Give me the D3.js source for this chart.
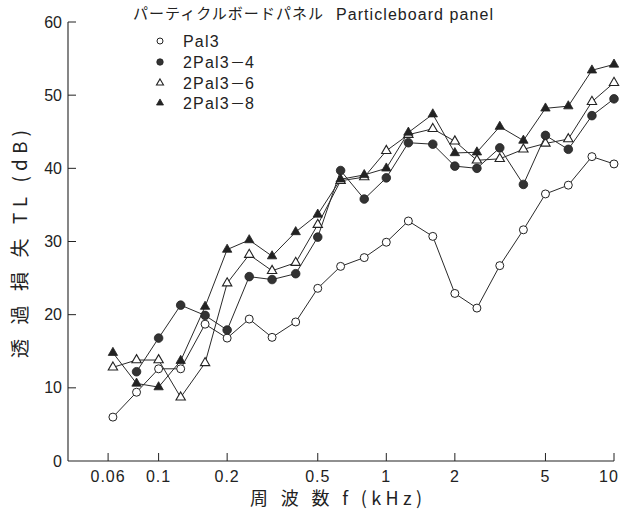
<!DOCTYPE html>
<html>
<head>
<meta charset="utf-8">
<script src="https://cdn.jsdelivr.net/npm/d3@7"></script>
<style>
  html, body { margin: 0; padding: 0; background: #fff; }
  svg { display: block; }
</style>
</head>
<body>
<svg id="chart" width="620" height="516"></svg>
<script>
// One-third-octave band centre frequencies (kHz)
const freqs = [0.063, 0.08, 0.1, 0.125, 0.16, 0.2, 0.25, 0.315, 0.4, 0.5, 0.63, 0.8,
               1, 1.25, 1.6, 2, 2.5, 3.15, 4, 5, 6.3, 8, 10];

// Transmission loss TL (dB) per panel construction
const pal3   = [6.0, 9.4, 12.6, 12.6, 18.7, 16.8, 19.4, 16.9, 19.0, 23.6, 26.6, 27.8,
                29.9, 32.8, 30.7, 22.9, 20.9, 26.7, 31.6, 36.5, 37.7, 41.6, 40.6];
const pal3x4 = [null, 12.2, 16.8, 21.3, 19.9, 17.9, 25.2, 24.8, 25.6, 30.6, 39.7, 35.8,
                38.7, 43.5, 43.3, 40.3, 40.0, 42.8, 37.8, 44.5, 42.6, 47.2, 49.5];
const pal3x6 = [12.8, 13.8, 13.8, 8.7, 13.4, 24.3, 28.2, 26.0, 27.1, 32.3, 38.3, 38.8,
                42.4, 44.6, 45.4, 43.7, 41.1, 41.3, 42.6, 43.4, 44.0, 49.1, 51.7];
const pal3x8 = [14.8, 10.6, 10.1, 13.7, 21.1, 28.9, 30.2, 28.0, 31.3, 33.7, 38.5, 39.1,
                40.0, 44.9, 47.4, 42.1, 42.2, 45.7, 43.8, 48.2, 48.5, 53.4, 54.2];

// Legend names, split around the full-width dash
const seriesNames = [["Pal3"], ["2Pal3", "－", "4"], ["2Pal3", "－", "6"], ["2Pal3", "－", "8"]];

// Axis ticks
const xTicks = [0.06, 0.1, 0.2, 0.5, 1, 2, 5, 10];
const xTickLabels = ["0.06", "0.1", "0.2", "0.5", "1", "2", "5", "10"];
const yTicks = [0, 10, 20, 30, 40, 50, 60];

const titleJa = "パーティクルボードパネル";
const titleEn = "Particleboard panel";
const xTitle = "周 波 数 f (kHz)";
const yTitle = "透 過 損 失 TL (dB)";

const ink = "#222";
const numFont = "'Liberation Sans Narrow', 'Liberation Sans', Arial, sans-serif";
const latFont = "'Liberation Sans', Arial, sans-serif";
const cjkFont = "'Noto Sans CJK JP', 'Noto Sans', sans-serif";

const svg = d3.select("#chart");

const x = d3.scaleLog().domain([0.04, 10]).range([68, 614]);
const y = d3.scaleLinear().domain([0, 60]).range([461, 22]);

// Axes: ticks drawn inward
const axisG = svg.append("g");
axisG.append("line")
  .attr("x1", x.range()[0]).attr("x2", x.range()[1])
  .attr("y1", y(0)).attr("y2", y(0))
  .attr("stroke", ink).attr("stroke-width", 1.1);
axisG.append("line")
  .attr("x1", x.range()[0]).attr("x2", x.range()[0])
  .attr("y1", y(0)).attr("y2", y(60))
  .attr("stroke", ink).attr("stroke-width", 1.1);

axisG.selectAll(".xt").data(xTicks).join("line")
  .attr("x1", d => x(d)).attr("x2", d => x(d))
  .attr("y1", y(0)).attr("y2", y(0) - 8)
  .attr("stroke", ink).attr("stroke-width", 1);
axisG.selectAll(".xl").data(xTicks).join("text")
  .attr("x", d => Math.min(x(d), 609)).attr("y", y(0) + 15)
  .attr("dy", "0.35em")
  .attr("text-anchor", "middle")
  .attr("font-family", numFont).attr("font-size", 16)
  .attr("letter-spacing", 1)
  .attr("fill", ink)
  .text((d, i) => xTickLabels[i]);

axisG.selectAll(".yt").data(yTicks.filter(d => d > 0)).join("line")
  .attr("x1", x.range()[0]).attr("x2", x.range()[0] + 8)
  .attr("y1", d => y(d)).attr("y2", d => y(d))
  .attr("stroke", ink).attr("stroke-width", 1);
axisG.selectAll(".yl").data(yTicks).join("text")
  .attr("x", 62).attr("y", d => y(d))
  .attr("dy", "0.35em")
  .attr("text-anchor", "end")
  .attr("font-family", numFont).attr("font-size", 16)
  .attr("fill", ink)
  .text(d => d);

// Axis titles
svg.append("text")
  .attr("x", 250).attr("y", 499).attr("dy", "0.35em")
  .attr("font-family", cjkFont).attr("font-size", 18)
  .attr("textLength", 172).attr("lengthAdjust", "spacing")
  .attr("fill", ink)
  .text(xTitle);
svg.append("text")
  .attr("transform", "translate(20,358) rotate(-90)")
  .attr("dy", "0.35em")
  .attr("font-family", cjkFont).attr("font-size", 19)
  .attr("textLength", 228).attr("lengthAdjust", "spacing")
  .attr("fill", ink)
  .text(yTitle);

// Title
svg.append("text")
  .attr("x", 133).attr("y", 14).attr("dy", "0.35em")
  .attr("font-family", cjkFont).attr("font-size", 15)
  .attr("textLength", 190).attr("lengthAdjust", "spacing")
  .attr("fill", ink)
  .text(titleJa);
svg.append("text")
  .attr("x", 336).attr("y", 14).attr("dy", "0.35em")
  .attr("font-family", latFont).attr("font-size", 16)
  .attr("textLength", 157).attr("lengthAdjust", "spacing")
  .attr("fill", ink)
  .text(titleEn);

// Series
const allSeries = [pal3, pal3x4, pal3x6, pal3x8].map((vals, k) => ({
  name: seriesNames[k],
  k,
  pts: freqs.map((f, i) => ({ f, v: vals[i] }))
}));

const line = d3.line()
  .defined(d => d.v != null)
  .x(d => x(d.f)).y(d => y(d.v));

svg.append("g").selectAll("path").data(allSeries).join("path")
  .attr("d", s => line(s.pts))
  .attr("fill", "none")
  .attr("stroke", "#2a2a2a")
  .attr("stroke-width", 1);

const tri = d3.symbol().type(d3.symbolTriangle);

function drawMarker(g, k, scale) {
  if (k === 0) {
    g.append("circle").attr("r", 4 * scale)
      .attr("fill", "#fff").attr("stroke", ink).attr("stroke-width", 1);
  } else if (k === 1) {
    g.append("circle").attr("r", 4.3 * scale)
      .attr("fill", "#333").attr("stroke", ink).attr("stroke-width", 0.8);
  } else if (k === 2) {
    g.append("path").attr("d", tri.size(38 * scale * scale)())
      .attr("fill", "#fff").attr("stroke", ink).attr("stroke-width", 1.1);
  } else {
    g.append("path").attr("d", tri.size(38 * scale * scale)())
      .attr("fill", "#222").attr("stroke", ink).attr("stroke-width", 0.8);
  }
}

// Markers: open triangles beneath the filled ones
const drawOrder = [0, 2, 1, 3];
drawOrder.forEach(k => {
  const s = allSeries[k];
  svg.append("g").selectAll("g").data(s.pts.filter(d => d.v != null)).join("g")
    .attr("transform", d => `translate(${x(d.f)},${y(d.v)})`)
    .each(function () { drawMarker(d3.select(this), k, 1); });
});

// Legend
const legendY = [41, 62, 83, 103];
allSeries.forEach((s, k) => {
  const g = svg.append("g").attr("transform", `translate(160,${legendY[k]})`);
  drawMarker(g, k, 0.75);
  const t = g.append("text")
    .attr("x", 23).attr("dy", "0.35em")
    .attr("font-family", latFont).attr("font-size", 16)
    .attr("letter-spacing", 1.2)
    .attr("fill", ink);
  s.name.forEach(part => {
    const sp = t.append("tspan").text(part);
    if (part === "－") sp.attr("font-family", cjkFont).attr("font-size", 15).attr("letter-spacing", 0);
  });
});
</script>
</body>
</html>
